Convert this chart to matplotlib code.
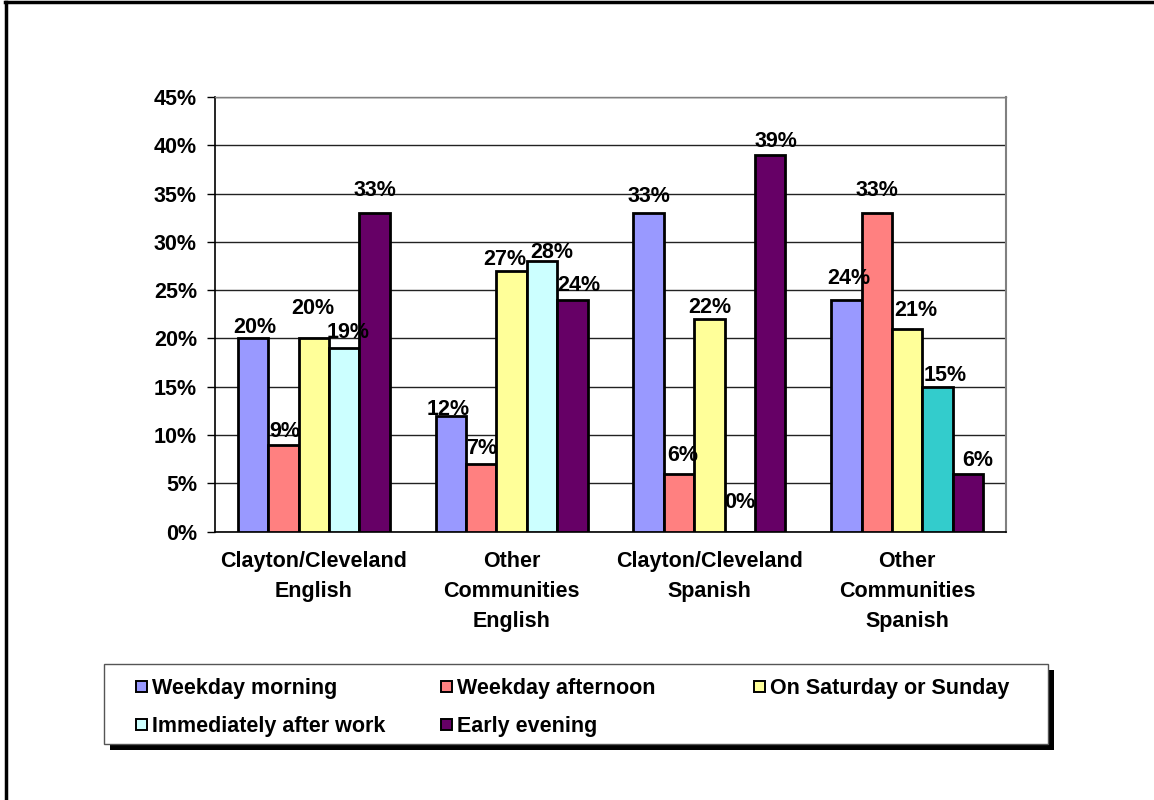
import matplotlib
matplotlib.use("Agg")
import matplotlib.pyplot as plt
from matplotlib.patches import Rectangle
from matplotlib.lines import Line2D
import numpy as np

plt.rcParams['font.family'] = ['Liberation Sans', 'DejaVu Sans']
plt.rcParams['font.weight'] = 'bold'

# ---- data ----
categories = ["Clayton/Cleveland\nEnglish", "Other\nCommunities\nEnglish",
              "Clayton/Cleveland\nSpanish", "Other\nCommunities\nSpanish"]
series_names = ["Weekday morning", "Weekday afternoon", "On Saturday or Sunday",
                "Immediately after work", "Early evening"]
weekday_morning = [20, 12, 33, 24]
weekday_afternoon = [9, 7, 6, 33]
weekend = [20, 27, 22, 21]
after_work = [19, 28, 0, 15]
early_evening = [33, 24, 39, 6]
values = [weekday_morning, weekday_afternoon, weekend, after_work, early_evening]

colors = ["#9999FF", "#FF8080", "#FFFF99", "#CCFFFF", "#660066"]
# the last group's "after work" bar is drawn in a darker teal
bar_color_override = {(3, 3): "#33CCCC"}

# label nudges in pixels (dx, dy above bar top), per series then per category
label_nudge = [
    [(2, 5), (-3, 1), (0, 11), (2, 16)],
    [(1, 8), (0, 10), (4, 13), (0, 17)],
    [(-1, 24), (-7, 6), (0, 6), (9, 13)],
    [(4, 10), (10, 3), (0, 24), (8, 6)],
    [(0, 17), (6, 9), (6, 8), (10, 8)],
]

W, H = 1154, 800
fig = plt.figure(figsize=(W / 100, H / 100), dpi=100)
fig.patch.set_facecolor("white")

def fx(x):
    return x / W

def fy(y):
    return 1 - y / H

# outer frame (top and left edges)
fig.add_artist(Line2D([fx(5), fx(W)], [fy(2), fy(2)], color="black", lw=2.5,
                      transform=fig.transFigure))
fig.add_artist(Line2D([fx(6), fx(6)], [fy(2), fy(H)], color="black", lw=2.5,
                      transform=fig.transFigure))

ax_left, ax_right, ax_top, ax_bottom = 215, 1006, 97, 531.5
ax = fig.add_axes([fx(ax_left), fy(ax_bottom), fx(ax_right - ax_left),
                   (ax_bottom - ax_top) / H])
ax.set_facecolor("white")

n_series = len(values)
x = np.arange(len(categories))
bar_w = 0.1537
fs = 15.5

for i, (vals, col) in enumerate(zip(values, colors)):
    xs = x + (i - (n_series - 1) / 2) * bar_w
    cols = [bar_color_override.get((i, j), col) for j in range(len(vals))]
    ax.bar(xs, vals, width=bar_w, color=cols, edgecolor="black", linewidth=2.0,
           zorder=3)
    for j, v in enumerate(vals):
        dx, dy = label_nudge[i][j]
        ax.annotate(f"{v}%", xy=(xs[j], v), xytext=(dx, dy),
                    textcoords="offset pixels", ha="center", va="baseline",
                    fontsize=fs, fontweight="bold", zorder=4)

ax.set_xlim(-0.5, len(categories) - 0.5)
ax.set_ylim(0, 45)
ax.set_yticks(np.arange(0, 46, 5))
ax.set_yticklabels([f"{t}%" for t in range(0, 46, 5)])
ax.yaxis.grid(True, color="#222222", linewidth=1.0, zorder=0)
ax.set_axisbelow(True)
ax.tick_params(axis="y", direction="out", length=6, width=1, pad=7,
               labelsize=fs, color="black")
ax.set_xticks(x)
ax.set_xticklabels(categories, fontsize=fs, fontweight="bold", linespacing=1.55)
ax.tick_params(axis="x", length=0, pad=14)
for lab in ax.get_yticklabels():
    lab.set_fontweight("bold")

ax.spines["left"].set_color("black")
ax.spines["left"].set_linewidth(1.2)
ax.spines["bottom"].set_color("black")
ax.spines["bottom"].set_linewidth(1.2)
ax.spines["top"].set_color("#808080")
ax.spines["right"].set_color("#808080")
ax.spines["top"].set_linewidth(1)
ax.spines["right"].set_linewidth(1.5)

# ---- legend box with shadow ----
lx0, lx1, ly0, ly1 = 104, 1048, 664, 744
shadow = 6
fig.add_artist(Rectangle((fx(lx0 + shadow), fy(ly1 + shadow)),
                         fx(lx1 - lx0), (ly1 - ly0) / H,
                         facecolor="black", edgecolor="none",
                         transform=fig.transFigure))
fig.add_artist(Rectangle((fx(lx0), fy(ly1)), fx(lx1 - lx0), (ly1 - ly0) / H,
                         facecolor="white", edgecolor="#555555", lw=1,
                         transform=fig.transFigure))

col_x = [136, 441, 754]
row_y = [686, 724]
legend_slots = [(0, 0), (0, 1), (0, 2), (1, 0), (1, 1)]
msize = 11
for name, col, (r, c) in zip(series_names, colors, legend_slots):
    mx, my = col_x[c], row_y[r]
    fig.add_artist(Rectangle((fx(mx), fy(my + msize / 2)), fx(msize), msize / H,
                             facecolor=col, edgecolor="black", lw=1.4,
                             transform=fig.transFigure))
    fig.text(fx(mx + msize + 5), fy(my), name, fontsize=fs, fontweight="bold",
             ha="left", va="center_baseline", transform=fig.transFigure)

fig.savefig("out.png", dpi=100, facecolor="white")
